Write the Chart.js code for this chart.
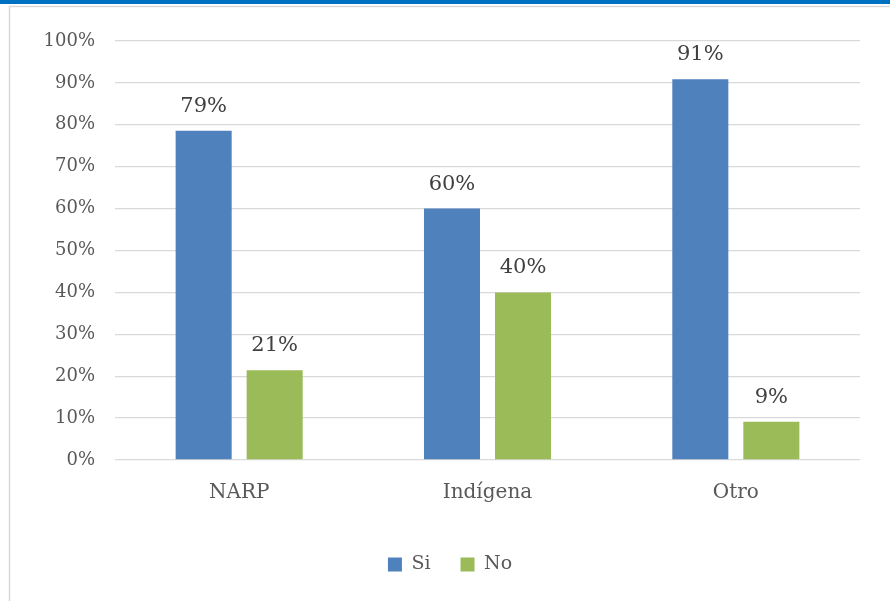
<!DOCTYPE html>
<html>
<head>
<meta charset="utf-8">
<script src="https://cdn.jsdelivr.net/npm/chart.js@4"></script>
<style>
  html, body { margin: 0; padding: 0; background: #fff; }
  #wrap { position: relative; width: 890px; height: 601px; }
</style>
</head>
<body>
<div id="wrap"><canvas id="grafico" width="890" height="601"></canvas></div>
<script>
const categorias = ['NARP', 'Indígena', 'Otro'];
const valoresSi = [78.6, 60.0, 90.9];
const valoresNo = [21.4, 40.0, 9.1];
const etiquetasSi = ['79%', '60%', '91%'];
const etiquetasNo = ['21%', '40%', '9%'];

const fuente = "'DejaVu Serif', 'Liberation Serif', serif";

// marco del grafico (linea azul arriba y borde gris)
const marco = {
    id: 'marco',
    beforeDraw(chart) {
        const c = chart.ctx;
        c.save();
        c.fillStyle = '#ffffff';
        c.fillRect(0, 0, chart.width, chart.height);
        c.fillStyle = '#0070C0';
        c.fillRect(0, 0, chart.width, 4);
        c.strokeStyle = '#D9D9D9';
        c.lineWidth = 1.5;
        c.beginPath();
        c.moveTo(9.5, chart.height);
        c.lineTo(9.5, 6.5);
        c.lineTo(chart.width, 6.5);
        c.stroke();
        c.restore();
    }
};

// etiquetas de datos encima de cada barra
const etiquetas = {
    id: 'etiquetas',
    afterDatasetsDraw(chart) {
        const c = chart.ctx;
        const textos = [etiquetasSi, etiquetasNo];
        c.save();
        c.font = '21px ' + fuente;
        c.fillStyle = '#404040';
        c.textAlign = 'center';
        c.textBaseline = 'bottom';
        chart.data.datasets.forEach((ds, i) => {
            chart.getDatasetMeta(i).data.forEach((bar, j) => {
                c.fillText(textos[i][j], bar.x, bar.y - 14);
            });
        });
        c.restore();
    }
};

new Chart(document.getElementById('grafico'), {
    type: 'bar',
    data: {
        labels: categorias,
        datasets: [
            {
                label: 'Si',
                data: valoresSi,
                backgroundColor: '#4F81BD',
                categoryPercentage: 0.572,
                barPercentage: 0.789
            },
            {
                label: 'No',
                data: valoresNo,
                backgroundColor: '#9BBB59',
                categoryPercentage: 0.572,
                barPercentage: 0.789
            }
        ]
    },
    options: {
        responsive: false,
        animation: false,
        layout: {
            padding: { top: 41, right: 30, bottom: 17, left: 40 }
        },
        scales: {
            x: {
                afterFit(scale) { scale.height = 65; },
                grid: { display: false },
                border: { display: false },
                ticks: {
                    color: '#595959',
                    font: { family: fuente, size: 20 },
                    padding: 13
                }
            },
            y: {
                min: 0,
                max: 100,
                afterFit(scale) { scale.width = 75; },
                grid: { color: '#D9D9D9', lineWidth: 1.3, drawTicks: false },
                border: { display: false },
                ticks: {
                    stepSize: 10,
                    color: '#595959',
                    font: { family: fuente, size: 18 },
                    padding: 20,
                    callback: (v) => v + '%'
                }
            }
        },
        plugins: {
            legend: {
                position: 'bottom',
                labels: {
                    boxWidth: 14,
                    boxHeight: 14,
                    padding: 30,
                    color: '#595959',
                    font: { family: fuente, size: 19 }
                }
            },
            tooltip: { enabled: false }
        }
    },
    plugins: [marco, etiquetas]
});
</script>
</body>
</html>
